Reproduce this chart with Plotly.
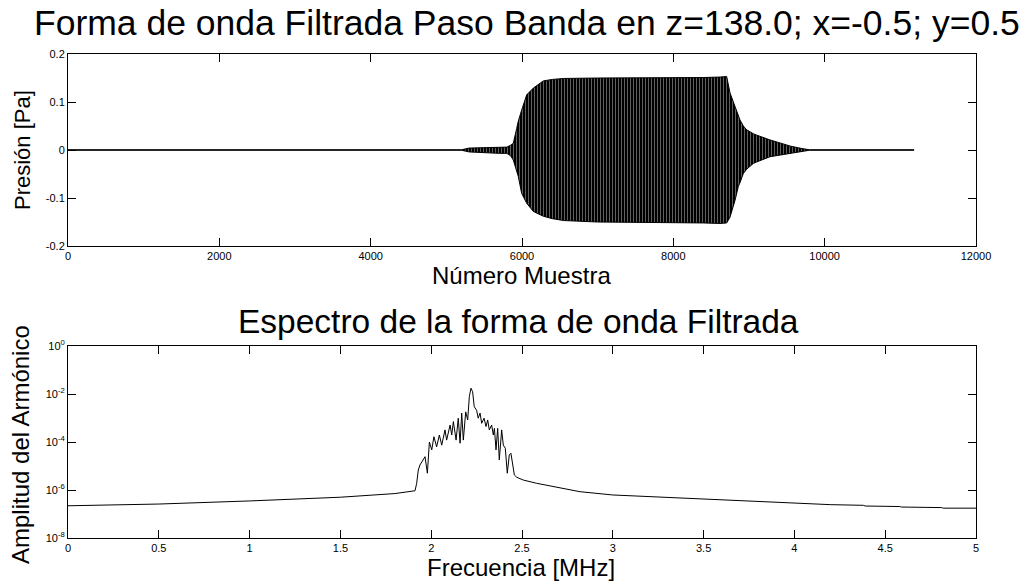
import plotly.graph_objects as go

# ---------------- Pressure waveform (band-pass filtered) ----------------
# Envelope of the filtered pressure signal: sample number, upper and lower peak [Pa]
wave_samples = [0, 5200, 5300, 5500, 5700, 5800, 5850, 5885, 5930, 5951, 5995, 6062,
                6150, 6282, 6400, 6550, 7000, 7500, 8000, 8400, 8617, 8705, 8749,
                8793, 8815, 8859, 8881, 8925, 8969, 9057, 9101, 9277, 9409, 9550,
                9700, 9800, 11180]
wave_upper = [0.0005, 0.0005, 0.004, 0.005, 0.005, 0.006, 0.010, 0.014, 0.045, 0.060,
              0.083, 0.115, 0.129, 0.144, 0.147, 0.149, 0.150, 0.150, 0.150, 0.151,
              0.152, 0.153, 0.119, 0.100, 0.090, 0.070, 0.0625, 0.050, 0.042, 0.034,
              0.031, 0.021, 0.015, 0.008, 0.003, 0.0005, 0.0005]
wave_lower = [-0.0005, -0.0005, -0.004, -0.006, -0.007, -0.007, -0.012, -0.021, -0.045,
              -0.055, -0.090, -0.111, -0.128, -0.138, -0.143, -0.147, -0.150, -0.150,
              -0.151, -0.152, -0.153, -0.152, -0.140, -0.118, -0.105, -0.076, -0.068,
              -0.049, -0.040, -0.028, -0.025, -0.014, -0.010, -0.006, -0.003, -0.0005,
              -0.0005]

# ---------------- Amplitude spectrum ----------------
spec_freq = [0.0, 0.14, 0.15, 0.5, 1.0, 1.5, 1.8, 1.901, 1.911, 1.920, 1.929, 1.938,
             1.948, 1.966, 1.979, 1.990, 2.003, 2.015, 2.030, 2.045, 2.058, 2.076,
             2.085, 2.104, 2.113, 2.122, 2.137, 2.149, 2.159, 2.168, 2.177, 2.190,
             2.201, 2.210, 2.219, 2.228, 2.237, 2.250, 2.259, 2.269, 2.278, 2.291,
             2.302, 2.311, 2.320, 2.333, 2.342, 2.348, 2.357, 2.366, 2.375, 2.388,
             2.397, 2.408, 2.419, 2.430, 2.439, 2.449, 2.458, 2.471, 2.507, 2.581,
             2.691, 2.819, 3.0, 3.5, 4.0, 4.19, 4.20, 4.38, 4.39, 4.58, 4.59, 4.81,
             4.82, 5.0]
spec_amp = [2.2e-7, 2.3e-7, 2.4e-7, 2.6e-7, 3.5e-7, 5.0e-7, 7.1e-7, 8.5e-7, 9.3e-7,
            1.9e-6, 6.8e-6, 1.1e-5, 1.5e-5, 2.45e-5, 5.0e-6, 1.0e-4, 4.7e-5, 1.66e-4,
            6.3e-5, 1.95e-4, 7.4e-5, 3.2e-4, 1.2e-4, 5.1e-4, 1.95e-4, 7.1e-4, 1.2e-4,
            9.8e-4, 8.9e-5, 1.6e-3, 1.2e-4, 1.8e-3, 8.3e-4, 7.8e-3, 1.74e-2, 1.26e-2,
            2.95e-3, 2.1e-3, 9.8e-4, 1.6e-3, 6.0e-4, 9.8e-4, 4.4e-4, 8.3e-4, 3.2e-4,
            5.1e-4, 1.95e-4, 3.7e-4, 4.7e-5, 3.7e-4, 1.8e-5, 3.2e-4, 7.4e-5, 5.5e-5,
            5.0e-6, 2.9e-5, 3.4e-5, 1.3e-5, 4.2e-6, 3.4e-6, 2.6e-6, 1.9e-6, 1.3e-6,
            8.5e-7, 6.2e-7, 4.2e-7, 2.9e-7, 2.6e-7, 2.45e-7, 2.3e-7, 2.15e-7, 2.05e-7,
            1.95e-7, 1.85e-7, 1.75e-7, 1.75e-7]

# Tick values and labels
top_xticks = [0, 2000, 4000, 6000, 8000, 10000, 12000]
top_xlabels = ["0", "2000", "4000", "6000", "8000", "10000", "12000"]
top_yticks = [-0.2, -0.1, 0, 0.1, 0.2]
top_ylabels = ["-0.2", "-0.1", "0", "0.1", "0.2"]
bot_xticks = [0, 0.5, 1, 1.5, 2, 2.5, 3, 3.5, 4, 4.5, 5]
bot_xlabels = ["0", "0.5", "1", "1.5", "2", "2.5", "3", "3.5", "4", "4.5", "5"]
bot_yticks = [1e-8, 1e-6, 1e-4, 1e-2, 1]
bot_ylabels = ["10<sup>-8</sup>", "10<sup>-6</sup>", "10<sup>-4</sup>",
               "10<sup>-2</sup>", "10<sup>0</sup>"]

FONT = "Liberation Sans, Arial, sans-serif"
W, H = 1026, 583
ML, MR, MT, MB = 68, 50, 54, 45
PW, PH = W - ML - MR, H - MT - MB


def px(xp):
    return (xp - ML) / PW


def py(yp):
    return (H - MB - yp) / PH


fig = go.Figure()

# Filtered waveform drawn as a dense oscillation band between its envelopes
fig.add_trace(go.Scatter(
    x=wave_samples + wave_samples[::-1],
    y=wave_upper + wave_lower[::-1],
    mode="lines", fill="toself",
    line=dict(color="black", width=1),
    fillcolor="black",
    fillpattern=dict(shape="|", fgcolor="white", bgcolor="black",
                     size=3, solidity=0.25),
    xaxis="x", yaxis="y", hoverinfo="skip", showlegend=False,
))

# Spectrum
fig.add_trace(go.Scatter(
    x=spec_freq, y=spec_amp, mode="lines",
    line=dict(color="black", width=1),
    xaxis="x2", yaxis="y2", showlegend=False,
))

axis_common = dict(
    showline=True, linecolor="black", linewidth=1, mirror="ticks",
    ticks="inside", ticklen=8, tickcolor="black", tickwidth=1,
    showgrid=False, zeroline=False,
    tickfont=dict(family=FONT, size=11, color="black"),
)

top_dom = [py(246), py(54)]
bot_dom = [py(538), py(346)]

fig.update_layout(
    width=W, height=H,
    margin=dict(l=ML, r=MR, t=MT, b=MB),
    paper_bgcolor="white", plot_bgcolor="white",
    xaxis=dict(range=[0, 12000], tickvals=top_xticks, ticktext=top_xlabels,
               domain=[0, 1], anchor="y", **axis_common),
    yaxis=dict(range=[-0.2, 0.2], tickvals=top_yticks, ticktext=top_ylabels,
               domain=top_dom, anchor="x", **axis_common),
    xaxis2=dict(range=[0, 5], tickvals=bot_xticks, ticktext=bot_xlabels,
                domain=[0, 1], anchor="y2", **axis_common),
    yaxis2=dict(type="log", range=[-8, 0], tickvals=bot_yticks, ticktext=bot_ylabels,
                domain=bot_dom, anchor="x2", **axis_common),
)

texts = [
    ("Forma de onda Filtrada Paso Banda en z=138.0; x=-0.5; y=0.5", 527, 23, 35.5, 0),
    ("Número Muestra", 521, 275, 24, 0),
    ("Presión [Pa]", 22, 150, 22, -90),
    ("Espectro de la forma de onda Filtrada", 518, 322, 33.5, 0),
    ("Frecuencia [MHz]", 521, 567, 24, 0),
    ("Amplitud del Armónico", 20, 445, 24, -90),
]
for txt, xp, yp, size, ang in texts:
    fig.add_annotation(
        text=txt, x=px(xp), y=py(yp), xref="paper", yref="paper",
        xanchor="center", yanchor="middle", showarrow=False, textangle=ang,
        font=dict(family=FONT, size=size, color="black"),
    )

fig.write_html("out.html")
